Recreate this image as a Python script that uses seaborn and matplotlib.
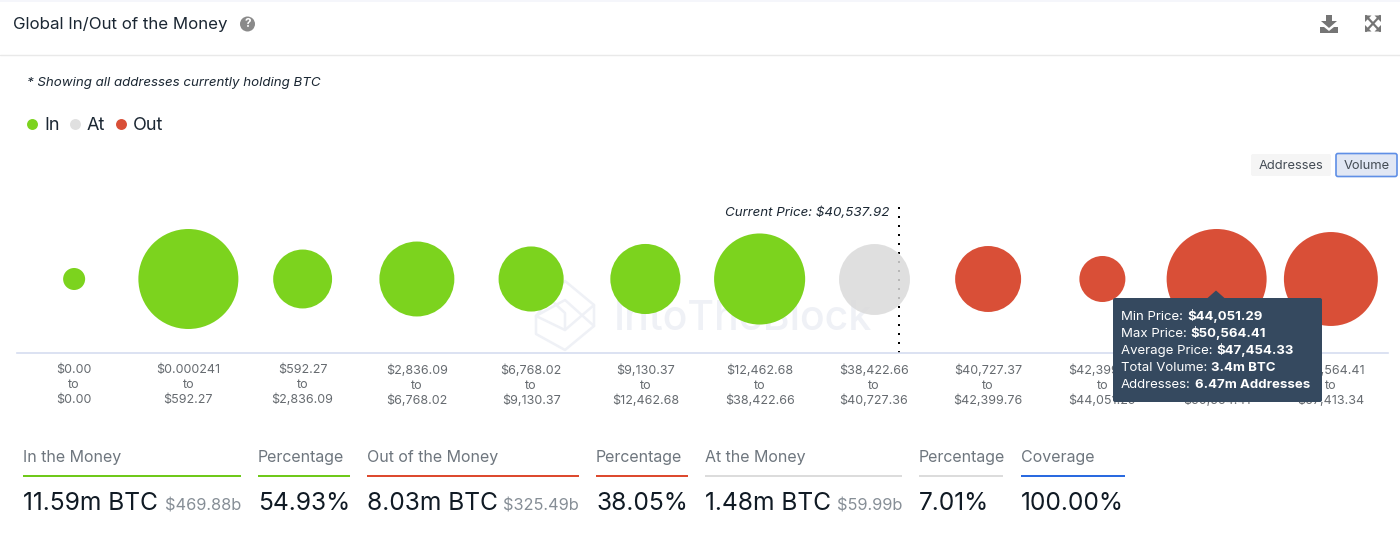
import matplotlib
matplotlib.use("Agg")
import matplotlib.pyplot as plt
import pandas as pd
import seaborn as sns
from matplotlib.patches import Circle, FancyBboxPatch, Polygon, Rectangle

# Rangos de precio de cada burbuja
price_low = ["$0.00", "$0.000241", "$592.27", "$2,836.09", "$6,768.02", "$9,130.37",
             "$12,462.68", "$38,422.66", "$40,727.37", "$42,399.76", "$44,051.29", "$50,564.41"]
price_high = ["$0.00", "$592.27", "$2,836.09", "$6,768.02", "$9,130.37", "$12,462.68",
              "$38,422.66", "$40,727.36", "$42,399.76", "$44,051.29", "$50,564.41", "$67,413.34"]
# Volumen en millones de BTC (estimado del área de las burbujas)
volume_m = [0.165, 3.40, 1.18, 1.91, 1.44, 1.67, 2.82, 1.71, 1.48, 0.72, 3.40, 3.00]
status = ["In"] * 7 + ["At"] + ["Out"] * 4

stat_labels = ["In the Money", "Percentage", "Out of the Money", "Percentage",
               "At the Money", "Percentage", "Coverage"]
stat_values = ["11.59m BTC", "54.93%", "8.03m BTC", "38.05%", "1.48m BTC", "7.01%", "100.00%"]
stat_usd = ["$469.88b", "", "$325.49b", "", "$59.99b", "", ""]

tooltip_keys = ["Min Price:", "Max Price:", "Average Price:", "Total Volume:", "Addresses:"]
tooltip_vals = ["$44,051.29", "$50,564.41", "$47,454.33", "3.4m BTC", "6.47m Addresses"]

GREEN = "#7cd31e"
RED = "#d94f37"
GREY = "#e0e0e0"
W, H = 1400, 538


def page_axes(fig, zorder):
    # Ejes en coordenadas de píxel para todo lo que no es el gráfico
    ax = fig.add_axes([0, 0, 1, 1], zorder=zorder)
    ax.set_xlim(0, W)
    ax.set_ylim(H, 0)
    ax.axis("off")
    return ax


def draw_header(ax):
    ax.add_patch(Rectangle((0, 0), W, 2, color="#f5f6fb", lw=0))
    ax.plot([0, W], [55, 55], color="#e9e9e9", lw=1)
    ax.text(13, 29, "Global In/Out of the Money", fontsize=12.2, color="#1b2733")
    ax.add_patch(Circle((247.5, 24), 7.5, color="#8a8a8a", lw=0))
    ax.text(247.5, 24.3, "?", fontsize=8.5, weight="bold", color="white", ha="center", va="center")

    # Icono de descarga
    ax.add_patch(Polygon([(1326, 15), (1332, 15), (1332, 21), (1337, 21), (1329, 28), (1321, 21), (1326, 21)],
                         color="#757575", lw=0))
    ax.add_patch(Polygon([(1320, 27), (1324, 27), (1329, 31), (1334, 27), (1338, 27), (1338, 33), (1320, 33)],
                         color="#757575", lw=0))
    # Icono de expandir
    for x0, x1, y0, y1 in [(1366, 1380, 16, 31), (1366, 1380, 31, 16)]:
        ax.plot([x0, x1], [y0, y1], color="#757575", lw=1.6)
    for cx, cy, dx, dy in [(1365, 15.5, 1, 1), (1381, 15.5, -1, 1), (1365, 31.5, 1, -1), (1381, 31.5, -1, -1)]:
        ax.add_patch(Polygon([(cx, cy), (cx + 6.5 * dx, cy), (cx, cy + 6.5 * dy)], color="#757575", lw=0))

    ax.text(27, 86, "* Showing all addresses currently holding BTC", fontsize=9.6,
            style="italic", color="#1b2733")

    # Leyenda
    for x, name, color in [(32, "In", GREEN), (75, "At", GREY), (121, "Out", RED)]:
        ax.scatter([x], [124], s=62, color=color, lw=0)
        ax.text(x + 12, 130, name, fontsize=13, color="#1b2733")

    # Botones
    ax.add_patch(FancyBboxPatch((1251, 154), 80, 22, boxstyle="round,pad=0,rounding_size=2",
                                fc="#f5f5f5", ec="none"))
    ax.text(1291.5, 166, "Addresses", fontsize=9.3, color="#444c55", ha="center", va="center")
    ax.add_patch(FancyBboxPatch((1336, 153.5), 61, 23, boxstyle="round,pad=0,rounding_size=2",
                                fc="#e1e7f4", ec="#5f8fe6", lw=1.2))
    ax.text(1367, 166, "Volume", fontsize=9.3, color="#444c55", ha="center", va="center")


def draw_watermark(ax):
    c = "#eff1f6"
    ax.text(614, 330, "IntoTheBlock", fontsize=29.5, color=c, weight="medium")
    outline = [(536, 316), (565, 281), (594, 305), (565, 330), (536, 316), (536, 334), (565, 350), (594, 326), (594, 305)]
    ax.plot(*zip(*outline), color=c, lw=1.8)
    ax.plot([550, 565, 565], [299, 313, 330], color=c, lw=1.8)
    ax.plot([536, 565, 594], [316, 300, 326], color=c, lw=1.8)


def draw_bubbles(ax):
    df = pd.DataFrame({"pos": range(len(volume_m)), "y": 0.0, "volume": volume_m, "status": status})
    # Diámetro de 100 px para 3.4m BTC (s en puntos cuadrados a 100 dpi)
    s_max = (100 * 72 / 100) ** 2
    palette = {"In": GREEN, "At": "#dadada", "Out": RED}
    for is_at, alpha in [(False, 1), (True, 0.85)]:
        sns.scatterplot(data=df[(df["status"] == "At") == is_at], x="pos", y="y", hue="status", palette=palette,
                        size="volume", size_norm=(0, 3.4), sizes=(0, s_max), linewidth=0, alpha=alpha,
                        legend=False, ax=ax, zorder=3, clip_on=False)

    ax.axvline(7.22, color="black", lw=1.44, ls=(0, (1, 3.5)), zorder=2)
    ax.text(7.14, 0.9, "Current Price: $40,537.92", fontsize=9.6, style="italic", color="#1b2733",
            ha="right", va="center")

    ax.set_xlim(-0.5, 11.5)
    ax.set_ylim(-1, 1)
    ax.set_xticks(df["pos"], [f"{lo}\nto\n{hi}" for lo, hi in zip(price_low, price_high)])
    ax.set_yticks([])
    ax.set_xlabel("")
    ax.set_ylabel("")
    ax.tick_params(axis="x", length=0, pad=8.5, labelsize=9.0, labelcolor="#666b70")
    for label in ax.get_xticklabels():
        label.set_linespacing(1.3)
    sns.despine(ax=ax, left=True)
    ax.spines["bottom"].set_color("#d6ddf0")
    ax.spines["bottom"].set_linewidth(1.2)
    ax.patch.set_alpha(0)


def draw_stats(ax):
    spans = [(23, 241), (258, 350), (367, 579), (596, 688), (705, 902), (919, 1003), (1021, 1125)]
    colors = ["#6fc91a", "#6fc91a", "#dd4a2f", "#dd4a2f", "#dcdcdc", "#dcdcdc", "#2a6ae0"]
    for (x0, x1), color, label, value, usd in zip(spans, colors, stat_labels, stat_values, stat_usd):
        ax.text(x0, 462, label, fontsize=11.5, color="#6e767e")
        ax.add_patch(Rectangle((x0, 475), x1 - x0, 2, color=color, lw=0))
        ax.text(x0, 510, value, fontsize=17.7, color="#101a24")
        if usd:
            ax.text(x1, 510, usd, fontsize=11.8, color="#868e96", ha="right")


def draw_tooltip(fig, ax):
    bg = "#35495f"
    ax.add_patch(FancyBboxPatch((1113, 298), 209, 104, boxstyle="round,pad=0,rounding_size=2", fc=bg, ec="none"))
    ax.add_patch(Polygon([(1207, 298.5), (1216, 290.5), (1225, 298.5)], color=bg, lw=0))
    renderer = fig.canvas.get_renderer()
    for i, (key, val) in enumerate(zip(tooltip_keys, tooltip_vals)):
        y = 320 + i * 17
        t = ax.text(1121, y, key, fontsize=9.5, color="white")
        x_end = t.get_window_extent(renderer).x1
        ax.text(x_end + 4, y, val, fontsize=9.5, color="white", weight="bold")


def main():
    sns.set_theme(style="white")
    plt.rcParams["font.family"] = ["Inter", "DejaVu Sans"]

    fig = plt.figure(figsize=(W / 100, H / 100), dpi=100, facecolor="white")
    bg_ax = page_axes(fig, 0)
    fg_ax = page_axes(fig, 5)

    chart_ax = fig.add_axes([17 / W, 1 - 352.5 / H, (1388 - 17) / W, (352.5 - 205.5) / H], zorder=2)

    draw_header(bg_ax)
    draw_watermark(bg_ax)
    draw_bubbles(chart_ax)
    draw_stats(bg_ax)
    draw_tooltip(fig, fg_ax)

    fig.savefig("out.png", dpi=100, facecolor="white")
    plt.close(fig)


if __name__ == "__main__":
    main()
